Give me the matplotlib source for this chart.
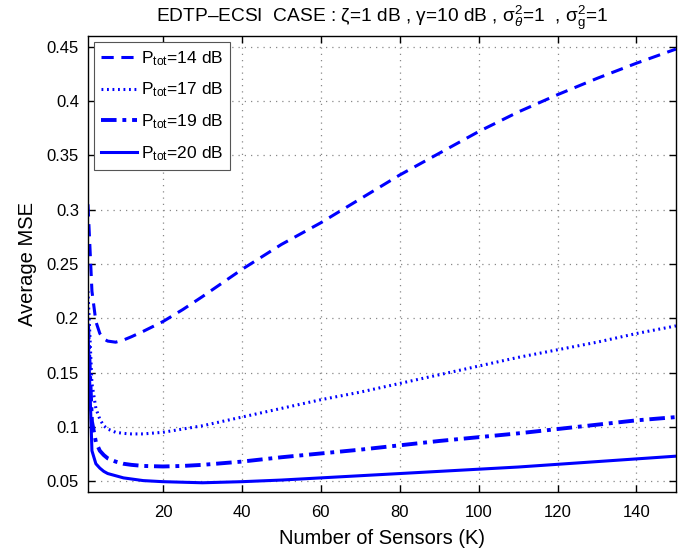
import matplotlib
matplotlib.use('Agg')
import matplotlib.pyplot as plt

plt.rcParams['font.family'] = ['Liberation Sans', 'DejaVu Sans']
plt.rcParams['mathtext.fontset'] = 'custom'
plt.rcParams['mathtext.rm'] = 'Liberation Sans'
plt.rcParams['mathtext.it'] = 'Liberation Sans:italic'

# number of sensors
K = [1, 2, 3, 4, 5, 6, 8, 10, 12, 15, 20, 25, 30, 40, 50, 60, 70, 80,
     90, 100, 110, 120, 130, 140, 150]

# average MSE for each total power
mse_14 = [0.305, 0.225, 0.197, 0.186, 0.181, 0.179, 0.178, 0.180, 0.183,
          0.188, 0.197, 0.208, 0.220, 0.245, 0.268, 0.288, 0.310, 0.332,
          0.352, 0.372, 0.390, 0.406, 0.421, 0.435, 0.448]
mse_17 = [0.225, 0.140, 0.117, 0.107, 0.101, 0.098, 0.095, 0.094, 0.0935,
          0.0935, 0.095, 0.098, 0.101, 0.109, 0.117, 0.125, 0.132, 0.140,
          0.148, 0.156, 0.164, 0.171, 0.178, 0.186, 0.193]
mse_19 = [0.195, 0.105, 0.086, 0.078, 0.074, 0.071, 0.068, 0.066, 0.065,
          0.064, 0.0635, 0.064, 0.065, 0.068, 0.072, 0.0755, 0.079, 0.083,
          0.087, 0.0905, 0.094, 0.098, 0.102, 0.106, 0.109]
mse_20 = [0.190, 0.078, 0.066, 0.062, 0.059, 0.057, 0.055, 0.053, 0.052,
          0.0505, 0.0495, 0.049, 0.0485, 0.0495, 0.051, 0.053, 0.055, 0.057,
          0.059, 0.061, 0.063, 0.0655, 0.068, 0.0705, 0.073]

fig = plt.figure(figsize=(6.95, 5.52), dpi=100)
ax = fig.add_axes([0.1266, 0.1087, 0.846, 0.826])

ax.plot(K, mse_14, color='#0000ff', lw=2.2, linestyle=(0, (4, 2.5)),
        label=r'P$_{\rm tot}$=14 dB')
ax.plot(K, mse_17, color='#0000ff', lw=2.2, linestyle=(0, (0.6, 1.2)),
        label=r'P$_{\rm tot}$=17 dB')
ax.plot(K, mse_19, color='#0000ff', lw=2.8, linestyle=(0, (4, 1.5, 1, 1.5)),
        label=r'P$_{\rm tot}$=19 dB')
ax.plot(K, mse_20, color='#0000ff', lw=2.2, linestyle='-',
        label=r'P$_{\rm tot}$=20 dB')

ax.set_xlim(1, 150)
ax.set_ylim(0.04, 0.46)
ax.set_xticks([20, 40, 60, 80, 100, 120, 140])
ax.set_yticks([0.05, 0.1, 0.15, 0.2, 0.25, 0.3, 0.35, 0.4, 0.45])
ax.set_yticklabels(['0.05', '0.1', '0.15', '0.2', '0.25', '0.3', '0.35',
                    '0.4', '0.45'])
ax.tick_params(direction='in', top=True, right=True, labelsize=12,
               length=5, width=1)
ax.tick_params(axis='x', pad=9.5)
ax.tick_params(axis='y', pad=6.5)
ax.grid(True, linestyle=(0, (1, 4)), color='#888888', lw=0.9)
for s in ax.spines.values():
    s.set_linewidth(1.0)

ax.set_xlabel('Number of Sensors (K)', fontsize=14.5, labelpad=6)
ax.set_ylabel('Average MSE', fontsize=14.5, labelpad=7)
ax.set_title(r'EDTP–ECSI  CASE : ζ=1 dB , γ=10 dB , σ$^2_{\theta}$=1  , σ$^2_{\rm g}$=1',
             fontsize=13.8, pad=10)

leg = ax.legend(loc='upper left', fontsize=12.5, fancybox=False,
                framealpha=1, edgecolor='#555555', handlelength=2.1,
                handletextpad=0.2, borderaxespad=0.35, labelspacing=0.75,
                borderpad=0.4)
leg.get_frame().set_linewidth(0.8)

fig.savefig('out.png', dpi=100)
